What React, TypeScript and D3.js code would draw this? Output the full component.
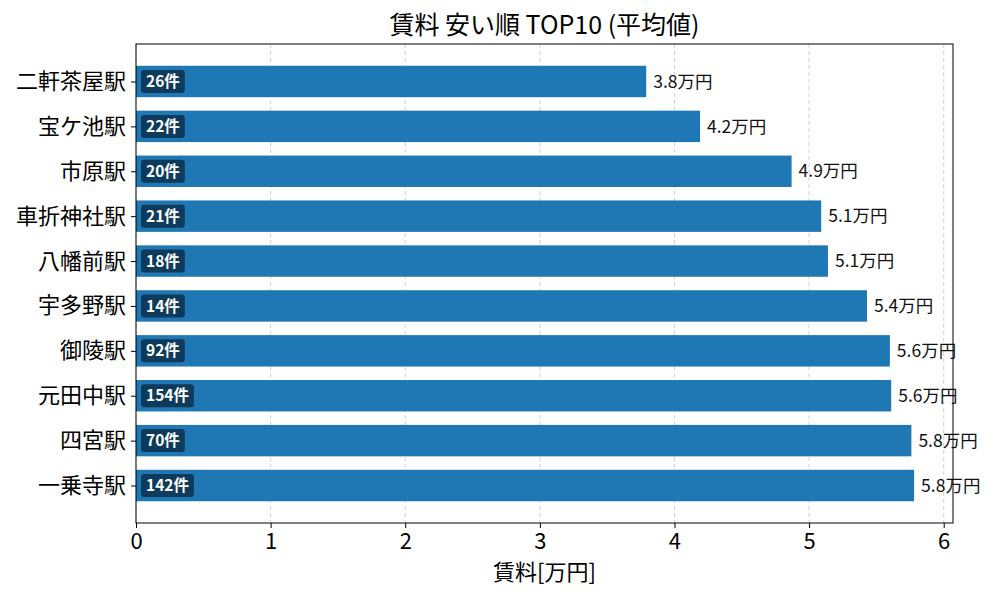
import { useEffect, useRef } from 'react';
import * as d3 from 'd3';

const WIDTH = 1000;
const HEIGHT = 600;
const MARGIN = { top: 44, right: 47, bottom: 77, left: 136 };

const stations = ['二軒茶屋駅', '宝ケ池駅', '市原駅', '車折神社駅', '八幡前駅', '宇多野駅', '御陵駅', '元田中駅', '四宮駅', '一乗寺駅'];
const rents = [3.79, 4.19, 4.87, 5.09, 5.14, 5.43, 5.6, 5.61, 5.76, 5.78];
const counts = [26, 22, 20, 21, 18, 14, 92, 154, 70, 142];
const xTicks = [0, 1, 2, 3, 4, 5, 6];

const FONT = '"Noto Sans CJK JP", "Noto Sans", sans-serif';

function App() {
  const svgRef = useRef<SVGSVGElement>(null);

  useEffect(() => {
    const svg = d3.select(svgRef.current);
    svg.selectAll('*').remove();

    const x = d3.scaleLinear()
      .domain([0, (d3.max(rents) || 0) * 1.05])
      .range([MARGIN.left, WIDTH - MARGIN.right]);

    // matplotlib style: bar height 0.7, 5% margins
    const n = stations.length;
    const lo = -0.35 - 0.05 * (n - 1 + 0.7);
    const hi = n - 1 + 0.35 + 0.05 * (n - 1 + 0.7);
    const y = d3.scaleLinear()
      .domain([lo, hi])
      .range([MARGIN.top, HEIGHT - MARGIN.bottom]);
    const barH = y(0.7) - y(0);

    // grid
    svg.append('g')
      .selectAll('line')
      .data(xTicks)
      .join('line')
      .attr('x1', (d) => x(d))
      .attr('x2', (d) => x(d))
      .attr('y1', MARGIN.top)
      .attr('y2', HEIGHT - MARGIN.bottom)
      .attr('stroke', '#cccccc')
      .attr('stroke-width', 0.9)
      .attr('stroke-dasharray', '4,3');

    const rows = stations.map((s, i) => ({ s, v: rents[i], c: counts[i], i }));

    svg.append('g')
      .attr('fill', '#1f77b4')
      .selectAll('rect')
      .data(rows)
      .join('rect')
      .attr('x', x(0))
      .attr('y', (d) => y(d.i) - barH / 2)
      .attr('width', (d) => x(d.v) - x(0))
      .attr('height', barH);

    // value labels
    svg.append('g')
      .selectAll('text')
      .data(rows)
      .join('text')
      .attr('x', (d) => x(d.v) + 7)
      .attr('y', (d) => y(d.i))
      .attr('dy', '0.35em')
      .attr('font-family', FONT)
      .attr('font-size', 17.5)
      .attr('fill', '#111')
      .text((d) => `${d.v.toFixed(1)}万円`);

    // count badges
    const badge = svg.append('g')
      .selectAll('g')
      .data(rows)
      .join('g')
      .attr('transform', (d) => `translate(${x(0) + 5},${y(d.i)})`);
    badge.append('text')
      .attr('x', 5)
      .attr('dy', '0.36em')
      .attr('font-family', FONT)
      .attr('font-size', 15.5)
      .attr('font-weight', 'bold')
      .attr('fill', '#fff')
      .text((d) => `${d.c}件`);
    badge.each(function () {
      const g = d3.select(this);
      const t = g.select<SVGTextElement>('text').node();
      const w = t ? t.getBBox().width : 40;
      g.insert('rect', 'text')
        .attr('x', 0)
        .attr('y', -11.5)
        .attr('width', w + 10)
        .attr('height', 23)
        .attr('rx', 3)
        .attr('fill', '#0e3b5c');
    });

    // frame
    svg.append('rect')
      .attr('x', MARGIN.left)
      .attr('y', MARGIN.top)
      .attr('width', WIDTH - MARGIN.left - MARGIN.right)
      .attr('height', HEIGHT - MARGIN.top - MARGIN.bottom)
      .attr('fill', 'none')
      .attr('stroke', '#000')
      .attr('stroke-width', 1);

    const xAxis = svg.append('g')
      .attr('transform', `translate(0,${HEIGHT - MARGIN.bottom})`)
      .call(d3.axisBottom(x).tickValues(xTicks).tickFormat(d3.format('d')).tickSize(5).tickPadding(5).tickSizeOuter(0));
    xAxis.select('.domain').remove();
    xAxis.selectAll('text').attr('font-family', FONT).attr('font-size', 22).attr('fill', '#000');

    const yAxis = svg.append('g')
      .attr('transform', `translate(${MARGIN.left},0)`)
      .call(d3.axisLeft(y).tickValues(d3.range(n)).tickFormat((d) => stations[d as number]).tickSize(5).tickPadding(5).tickSizeOuter(0));
    yAxis.select('.domain').remove();
    yAxis.selectAll('text').attr('font-family', FONT).attr('font-size', 22).attr('fill', '#000');

    svg.append('text')
      .attr('x', (MARGIN.left + WIDTH - MARGIN.right) / 2)
      .attr('y', 34)
      .attr('text-anchor', 'middle')
      .attr('font-family', FONT)
      .attr('font-size', 25)
      .text('賃料 安い順 TOP10 (平均値)');

    svg.append('text')
      .attr('x', (MARGIN.left + WIDTH - MARGIN.right) / 2)
      .attr('y', 580)
      .attr('text-anchor', 'middle')
      .attr('font-family', FONT)
      .attr('font-size', 22)
      .text('賃料[万円]');
  }, []);

  return (
    <svg
      ref={svgRef}
      width={WIDTH}
      height={HEIGHT}
      style={{ position: 'absolute', left: 0, top: 0, background: '#fff' }}
    />
  );
}

export default App;
